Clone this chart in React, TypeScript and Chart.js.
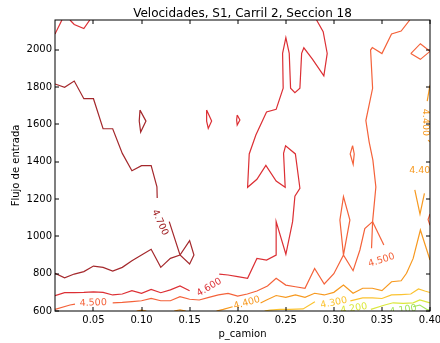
import React, { useEffect, useRef } from 'react';
import { Chart, registerables } from 'chart.js';

Chart.register(...registerables);

// ---------- data ----------
const titleText = 'Velocidades, S1, Carril 2, Seccion 18';
const xTitle = 'p_camion';
const yTitle = 'Flujo de entrada';
const xRange = [0.01, 0.40];
const yRange = [600, 2160];
const xTicks = [0.05, 0.10, 0.15, 0.20, 0.25, 0.30, 0.35, 0.40];
const yTicks = [600, 800, 1000, 1200, 1400, 1600, 1800, 2000];

// contour level 4.700
const c47Upper = [[0.01,1817],[0.02,1799],[0.03,1833],[0.04,1738],[0.05,1738],[0.06,1577],[0.07,1577],[0.08,1445],[0.09,1352],[0.10,1379],[0.11,1379],[0.116,1266],[0.1163,1206]];
const c47Lower = [[0.1288,1079],[0.14,900],[0.15,852],[0.1545,900],[0.15,977],[0.14,900],[0.13,882],[0.12,834],[0.11,931],[0.10,900],[0.09,870],[0.08,834],[0.07,814],[0.06,834],[0.05,841],[0.04,811],[0.03,798],[0.02,778],[0.01,802]];
const c47Loop = [[0.0984,1677],[0.1046,1618],[0.0991,1559],[0.0976,1618],[0.0984,1677]];

// contour level 4.600
const c46Corner = [[0.01,2085],[0.0172,2160]];
const c46Notch = [[0.0256,2160],[0.03,2136],[0.04,2114],[0.0462,2160]];
const c46LoopA = [[0.1677,1677],[0.1729,1618],[0.1694,1579],[0.1677,1618],[0.1677,1677]];
const c46LoopB = [[0.1995,1651],[0.2023,1624],[0.1995,1597],[0.1989,1624],[0.1995,1651]];
const c46Main = [[0.282,2160],[0.2889,2097],[0.2931,1981],[0.2896,1860],[0.2779,1949],[0.2688,2011],[0.2665,1981],[0.2647,1794],[0.2595,1770],[0.255,1794],[0.2536,1981],[0.2501,2065],[0.2467,1981],[0.2473,1794],[0.24,1681],[0.23,1667],[0.2189,1543],[0.212,1442],[0.2103,1263],[0.22,1306],[0.2293,1381],[0.24,1297],[0.2494,1263],[0.2477,1445],[0.2498,1486],[0.26,1442],[0.2647,1258],[0.2595,1216],[0.2571,1079],[0.2501,904],[0.24,1079],[0.24,900],[0.23,873],[0.22,882],[0.2103,775],[0.20,784],[0.19,793],[0.1808,798]];
const c46Lower = [[0.01,682],[0.02,698],[0.03,699],[0.04,700],[0.05,703],[0.06,700],[0.07,686],[0.08,691],[0.09,709],[0.10,695],[0.11,716],[0.12,698],[0.13,713],[0.14,734],[0.15,709]];

// contour level 4.500
const c45Right = [[0.379,2160],[0.37,2101],[0.36,2085],[0.35,1980],[0.34,2012],[0.3382,1999],[0.3403,1794],[0.3333,1621],[0.3367,1507],[0.3406,1409],[0.3437,1265],[0.3403,1079],[0.3392,936]];
const c45Spur = [[0.3403,1079],[0.352,954]];
const c45Main = [[0.3403,1079],[0.3322,1042],[0.3271,927],[0.32,816],[0.31,900],[0.3063,1088],[0.31,1213],[0.3167,1088],[0.31,900],[0.30,800],[0.29,745],[0.28,828],[0.27,722],[0.26,730],[0.25,739],[0.24,775],[0.231,734],[0.22,707],[0.21,691],[0.20,680],[0.19,694],[0.18,686],[0.17,673],[0.16,659],[0.15,663],[0.14,677],[0.13,655],[0.12,655],[0.11,668],[0.10,655],[0.09,650],[0.08,646],[0.07,644]];
const c45Left = [[0.01,609],[0.0256,632],[0.0308,637]];
const c45Loop = [[0.3195,1486],[0.3212,1442],[0.3201,1386],[0.317,1442],[0.3195,1486]];
const c45Corner = [[0.38,1980],[0.39,2033],[0.40,1992],[0.39,1949],[0.38,1980]];
const c45Edge = [[0.40,1120],[0.398,1090],[0.40,1060]];

// contour level 4.400
const c44Top = [[0.40,1812],[0.3971,1725]];
const c44TopEnd = [[0.398,1516],[0.40,1507]];
const c44Vee = [[0.3842,1249],[0.3896,1119],[0.3942,1230]];
const c44Main = [[0.40,873],[0.39,1034],[0.3825,882],[0.3756,802],[0.37,762],[0.36,757],[0.35,709],[0.34,722],[0.33,722],[0.32,695],[0.31,739],[0.30,700],[0.29,686],[0.28,695],[0.27,673],[0.26,686],[0.25,673],[0.24,683],[0.23,659],[0.2238,643]];
const c44Left = [[0.1947,623],[0.185,609],[0.178,600]];
const c44BumpA = [[0.095,600],[0.10,605],[0.105,600]];
const c44BumpB = [[0.134,600],[0.14,606],[0.146,600]];

// contour level 4.300
const c43Left = [[0.228,600],[0.2335,605],[0.244,609],[0.2543,609],[0.268,611],[0.2803,650]];
const c43Right = [[0.3172,654],[0.33,670],[0.34,670],[0.35,667],[0.36,686],[0.37,688],[0.38,691],[0.388,718],[0.3946,707],[0.40,699]];

// contour level 4.200 / 4.100
const c42Line = [[0.3385,609],[0.353,632],[0.3617,644],[0.3721,641],[0.3825,644],[0.3894,659],[0.40,643]];
const c41Line = [[0.3825,623],[0.3894,632],[0.3964,609],[0.40,603]];

// inline contour labels
const labelTexts = ['4.700','4.600','4.500','4.500','4.400','4.400','4.400','4.300','4.200','4.100'];
const labelX = [0.1191,0.1703,0.0498,0.3496,0.2096,0.3954,0.3925,0.30,0.3208,0.372];
const labelY = [1074,726,643,872,643,1611,1351,644,613,605];

// ---------- style ----------
const labelAngles = [65,-31,-2,-18,-16,90,0,-12,-10,-8];
const levelColor: Record<string, string> = {
  '4.100': '#a3e45a',
  '4.200': '#dbe83c',
  '4.300': '#fbc331',
  '4.400': '#f7991f',
  '4.500': '#f4623a',
  '4.600': '#dc2f34',
  '4.700': '#a4282c',
};
const FONT = '"DejaVu Sans", sans-serif';

const segments: [string, number[][]][] = [
  ['4.700', c47Upper], ['4.700', c47Lower], ['4.700', c47Loop],
  ['4.600', c46Corner], ['4.600', c46Notch], ['4.600', c46LoopA], ['4.600', c46LoopB], ['4.600', c46Main], ['4.600', c46Lower],
  ['4.500', c45Right], ['4.500', c45Spur], ['4.500', c45Main], ['4.500', c45Left], ['4.500', c45Loop], ['4.500', c45Corner], ['4.500', c45Edge],
  ['4.400', c44Top], ['4.400', c44TopEnd], ['4.400', c44Vee], ['4.400', c44Main], ['4.400', c44Left], ['4.400', c44BumpA], ['4.400', c44BumpB],
  ['4.300', c43Left], ['4.300', c43Right],
  ['4.200', c42Line], ['4.100', c41Line],
];

const overlayPlugin = {
  id: 'overlay',
  afterDatasetsDraw(chart: any) {
    const { ctx, chartArea: a } = chart;
    const xs = chart.scales.x;
    const ys = chart.scales.y;
    ctx.save();
    ctx.beginPath();
    ctx.rect(a.left, a.top, a.right - a.left, a.bottom - a.top);
    ctx.clip();
    ctx.font = '9.5px ' + FONT;
    ctx.textAlign = 'center';
    ctx.textBaseline = 'middle';
    labelTexts.forEach((t, i) => {
      ctx.save();
      ctx.translate(xs.getPixelForValue(labelX[i]), ys.getPixelForValue(labelY[i]));
      ctx.rotate((labelAngles[i] * Math.PI) / 180);
      ctx.fillStyle = levelColor[t];
      ctx.fillText(t, 0, 0);
      ctx.restore();
    });
    ctx.restore();
    ctx.save();
    ctx.strokeStyle = '#000';
    ctx.lineWidth = 1;
    ctx.strokeRect(a.left, a.top, a.right - a.left, a.bottom - a.top);
    ctx.beginPath();
    xTicks.forEach((v) => {
      const p = Math.round(xs.getPixelForValue(v));
      ctx.moveTo(p, a.bottom); ctx.lineTo(p, a.bottom - 4);
      ctx.moveTo(p, a.top); ctx.lineTo(p, a.top + 4);
    });
    yTicks.forEach((v) => {
      const p = Math.round(ys.getPixelForValue(v));
      ctx.moveTo(a.left, p); ctx.lineTo(a.left + 4, p);
      ctx.moveTo(a.right, p); ctx.lineTo(a.right - 4, p);
    });
    ctx.stroke();
    ctx.fillStyle = '#000';
    ctx.font = '12px ' + FONT;
    ctx.textAlign = 'center';
    ctx.textBaseline = 'alphabetic';
    ctx.fillText(titleText, (a.left + a.right) / 2, 17);
    ctx.restore();
  },
};

export default function App() {
  const ref = useRef<HTMLCanvasElement | null>(null);
  useEffect(() => {
    document.body.style.margin = '0';
    if (!ref.current) return;
    const datasets = segments.map(([lvl, pts]) => ({
      label: lvl,
      data: pts.map(([x, y]) => ({ x, y })),
      borderColor: levelColor[lvl],
      backgroundColor: levelColor[lvl],
      borderWidth: 1.2,
      pointRadius: 0,
      showLine: true,
      fill: false,
      tension: 0,
      clip: 0,
    }));
    const chart = new Chart(ref.current, {
      type: 'scatter',
      data: { datasets },
      options: {
        animation: false,
        responsive: false,
        devicePixelRatio: 1,
        events: [],
        layout: { padding: { left: 0, right: 10, top: 20, bottom: 0 } },
        plugins: { legend: { display: false }, tooltip: { enabled: false }, title: { display: false } },
        scales: {
          x: {
            type: 'linear',
            min: xRange[0],
            max: xRange[1],
            grid: { display: false, drawTicks: false },
            border: { display: false },
            afterBuildTicks: (s: any) => { s.ticks = xTicks.map((v) => ({ value: v })); },
            afterFit: (s: any) => { s.height = 32; s.paddingLeft = 0; s.paddingRight = 0; },
            ticks: {
              color: '#000',
              padding: 3,
              autoSkip: false,
              maxRotation: 0,
              font: { size: 10, family: FONT },
              callback: (v: any) => Number(v).toFixed(2),
            },
            title: { display: true, text: xTitle, color: '#000', font: { size: 10, family: FONT }, padding: { top: 0, bottom: 3 } },
          },
          y: {
            type: 'linear',
            min: yRange[0],
            max: yRange[1],
            grid: { display: false, drawTicks: false },
            border: { display: false },
            afterBuildTicks: (s: any) => { s.ticks = yTicks.map((v) => ({ value: v })); },
            afterFit: (s: any) => { s.width = 55; s.paddingTop = 0; s.paddingBottom = 0; },
            ticks: {
              color: '#000',
              padding: 3,
              autoSkip: false,
              font: { size: 10, family: FONT },
              callback: (v: any) => String(v),
            },
            title: { display: true, text: yTitle, color: '#000', font: { size: 10, family: FONT }, padding: { top: 10.7, bottom: 0 } },
          },
        },
      },
      plugins: [overlayPlugin],
    } as any);
    return () => chart.destroy();
  }, []);
  return (
    <div style={{ width: 440, height: 343 }}>
      <canvas ref={ref} width={440} height={343} style={{ display: 'block' }} />
    </div>
  );
}
